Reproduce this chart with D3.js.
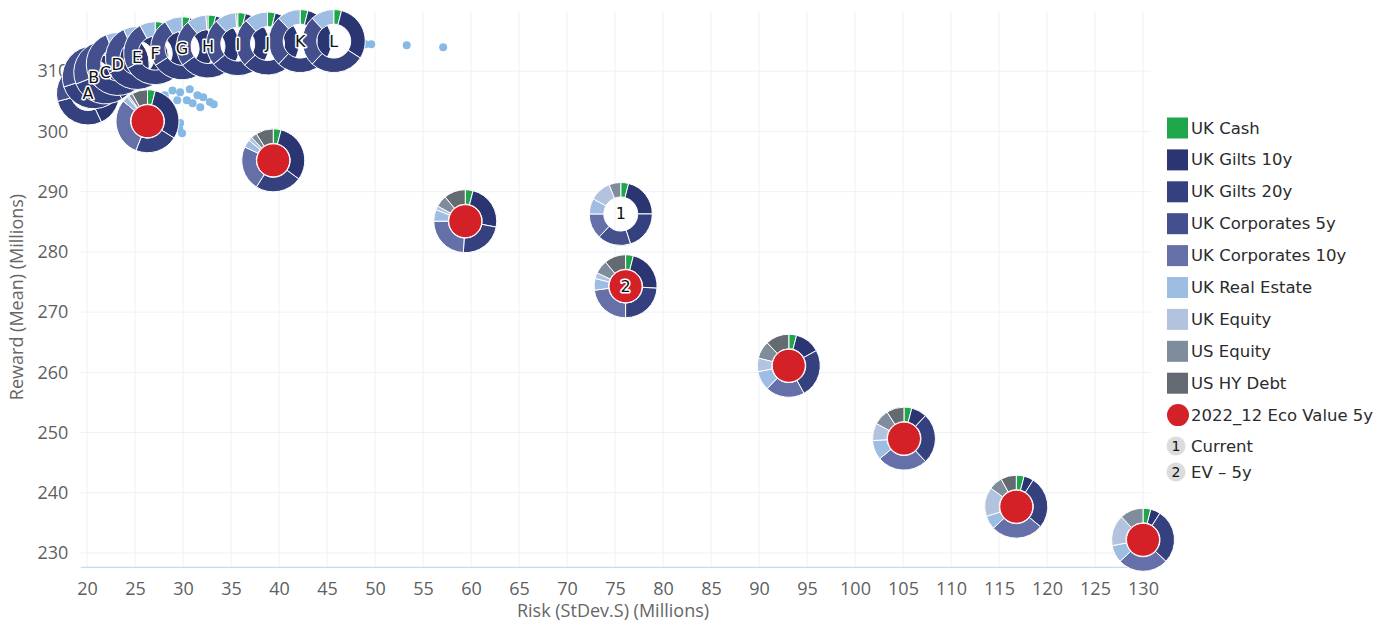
<!DOCTYPE html>
<html>
<head>
<meta charset="utf-8">
<script src="https://cdn.jsdelivr.net/npm/d3@7"></script>
<style>
  body { margin: 0; background: #fff; }
  svg { display: block; }
</style>
</head>
<body>
<svg id="chart" width="1395" height="626"></svg>
<script>
// ---- asset classes (slice order, legend order) ----
const assetClasses = ["UK Cash", "UK Gilts 10y", "UK Gilts 20y", "UK Corporates 5y",
  "UK Corporates 10y", "UK Real Estate", "UK Equity", "US Equity", "US HY Debt"];
const assetColors = ["#1fa64a", "#2a3572", "#35417f", "#444f8e",
  "#6570a8", "#9dbde3", "#b3c2de", "#7e8c9b", "#646a72"];

// ---- efficient frontier portfolios ----
const frontierLabels = ["A", "B", "C", "D", "E", "F", "G", "H", "I", "J", "K", "L"];
const frontierRisk   = [20.1, 20.7, 21.9, 23.2, 25.2, 27.1, 29.9, 32.6, 35.7, 38.8, 42.2, 45.7];
const frontierReward = [306.3, 309.0, 309.8, 311.2, 312.2, 313.0, 313.8, 314.1, 314.5, 314.6, 315.0, 315.0];
const frontierWeights = [
  [3, 40, 28, 26, 0, 3, 0, 0, 0],
  [3, 39, 28, 26, 0, 4, 0, 0, 0],
  [3, 38, 28, 26, 0, 5, 0, 0, 0],
  [3, 37, 28, 26, 0, 6, 0, 0, 0],
  [3, 36, 28, 26, 0, 7, 0, 0, 0],
  [4, 35, 28, 25, 0, 8, 0, 0, 0],
  [4, 34, 28, 25, 0, 9, 0, 0, 0],
  [4, 33, 28, 24, 0, 10, 0, 1, 0],
  [4, 32, 28, 24, 0, 11, 0, 1, 0],
  [4, 31, 28, 25, 0, 12, 0, 0, 0],
  [4, 31, 27, 26, 0, 12, 0, 0, 0],
  [4, 30, 28, 26, 0, 12, 0, 0, 0]
];

// ---- 2022_12 Eco Value 5y portfolios ----
const ecoRisk   = [26.3, 39.4, 59.4, 76.1, 93.1, 105.1, 116.8, 130.0];
const ecoReward = [301.7, 295.2, 285.1, 274.3, 261.1, 249.0, 237.7, 232.2];
const ecoLabels = ["", "", "", "2", "", "", "", ""];
const ecoWeights = [
  [4, 30, 22, 0, 30, 3, 1, 2, 8],
  [4, 31, 24, 0, 23, 4, 2, 3, 9],
  [4, 24, 23, 0, 24, 6, 2, 6, 11],
  [4, 22, 24, 0, 23, 6, 3, 7, 11],
  [4, 13, 25, 0, 20, 10, 7, 9, 12],
  [4, 8, 26, 0, 26, 10, 9, 8, 9],
  [4, 5, 27, 0, 27, 7, 15, 7, 8],
  [4, 5, 28, 0, 26, 9, 16, 12, 0]
];

// ---- current portfolio ----
const currentRisk = [75.6];
const currentReward = [286.3];
const currentLabels = ["1"];
const currentWeights = [[4, 21, 20, 17, 13, 8, 11, 6, 0]];

// ---- simulated portfolios ----
const simRisk   = [28.1, 28.9, 29.7, 30.7, 31.5, 32.1, 32.8, 33.2, 31.8, 29.4, 30.4, 31.0,
                   29.7, 29.9, 29.6, 49.0, 49.6, 53.3, 57.1];
const simReward = [306.0, 306.8, 306.5, 307.0, 306.0, 305.7, 304.9, 304.5, 304.0, 305.2, 305.2, 304.7,
                   301.4, 299.7, 300.5, 314.5, 314.5, 314.3, 314.0];

// ---- axes ----
const xTicks = [20, 25, 30, 35, 40, 45, 50, 55, 60, 65, 70, 75, 80, 85, 90, 95, 100, 105, 110, 115, 120, 125, 130];
const yTicks = [230, 240, 250, 260, 270, 280, 290, 300, 310];
const xTitle = "Risk (StDev.S) (Millions)";
const yTitle = "Reward (Mean) (Millions)";

// ---- legend ----
const legendExtra = ["2022_12 Eco Value 5y", "Current", "EV \u2013 5y"];

const svg = d3.select("#chart");
const tickFont = "'Open Sans', 'DejaVu Sans', sans-serif";
const textFont = "'DejaVu Sans', sans-serif";

const x = d3.scaleLinear().domain([19.3, 130.8]).range([80.3, 1150.7]);
const y = d3.scaleLinear().domain([227.7, 320]).range([566.9, 11]);

// gridlines
const grid = svg.append("g");
grid.selectAll("line.v").data(xTicks).join("line")
  .attr("x1", d => x(d)).attr("x2", d => x(d))
  .attr("y1", y(320)).attr("y2", y(227.7))
  .attr("stroke", "#edf1f7").attr("stroke-width", 1);
grid.selectAll("line.h").data(yTicks).join("line")
  .attr("x1", x(19.3)).attr("x2", x(130.8))
  .attr("y1", d => y(d)).attr("y2", d => y(d))
  .attr("stroke", "#edf1f7").attr("stroke-width", 1);

// x axis
const xAxis = svg.append("g").attr("transform", `translate(0,${y(227.7)})`)
  .call(d3.axisBottom(x).tickValues(xTicks).tickSize(0).tickPadding(15));
xAxis.select(".domain").attr("stroke", "#c9d9ef").attr("stroke-width", 1.2);
xAxis.selectAll("text").attr("font-family", tickFont).attr("font-size", 18).attr("fill", "#5f5f5f");

// y axis
const yAxis = svg.append("g").attr("transform", `translate(${x(19.3) - 12},0)`)
  .call(d3.axisLeft(y).tickValues(yTicks).tickSize(0).tickPadding(0));
yAxis.select(".domain").remove();
yAxis.selectAll("text").attr("font-family", tickFont).attr("font-size", 18).attr("fill", "#5f5f5f");

// axis titles
svg.append("text").attr("x", 613).attr("y", 617).attr("text-anchor", "middle")
  .attr("font-family", tickFont).attr("font-size", 18).attr("fill", "#666").text(xTitle);
svg.append("text").attr("transform", "translate(23,297) rotate(-90)").attr("text-anchor", "middle")
  .attr("font-family", tickFont).attr("font-size", 18).attr("fill", "#666").text(yTitle);

// simulated portfolios
svg.append("g").selectAll("circle").data(simRisk).join("circle")
  .attr("cx", d => x(d)).attr("cy", (d, i) => y(simReward[i])).attr("r", 4)
  .attr("fill", "#86b9e6");

// donuts
const pie = d3.pie().sort(null).value(d => d.w);
const rInner = 17, rOuter = 31.5;
const arc = d3.arc().innerRadius(rInner).outerRadius(rOuter);

function drawDonut(g, weights) {
  const slices = pie(weights.map((w, i) => ({ w, i }))).filter(s => s.data.w > 0);
  g.selectAll("path").data(slices).join("path")
    .attr("d", arc)
    .attr("fill", s => assetColors[s.data.i])
    .attr("stroke", "#fff").attr("stroke-width", 1);
}

const frontierG = svg.append("g");
frontierRisk.forEach((r, i) => {
  const g = frontierG.append("g").attr("transform", `translate(${x(r)},${y(frontierReward[i])})`);
  drawDonut(g, frontierWeights[i]);
});

const ecoG = svg.append("g");
ecoRisk.forEach((r, i) => {
  const g = ecoG.append("g").attr("transform", `translate(${x(r)},${y(ecoReward[i])})`);
  drawDonut(g, ecoWeights[i]);
  g.append("circle").attr("r", 16.5).attr("fill", "#d42027").attr("stroke", "#fff").attr("stroke-width", 1);
});

const curG = svg.append("g");
currentRisk.forEach((r, i) => {
  const g = curG.append("g").attr("transform", `translate(${x(r)},${y(currentReward[i])})`);
  drawDonut(g, currentWeights[i]);
});

// point labels
const labelG = svg.append("g").attr("font-family", textFont).attr("font-size", 16)
  .attr("text-anchor", "middle").attr("dominant-baseline", "central");
function addLabel(px, py, t) {
  if (!t) return;
  labelG.append("text").attr("x", px).attr("y", py).text(t)
    .attr("fill", "#111").attr("stroke", "#fff").attr("stroke-width", 3)
    .attr("stroke-linejoin", "round").attr("paint-order", "stroke");
}
frontierLabels.forEach((t, i) => addLabel(x(frontierRisk[i]), y(frontierReward[i]), t));
ecoLabels.forEach((t, i) => addLabel(x(ecoRisk[i]), y(ecoReward[i]), t));
currentLabels.forEach((t, i) => addLabel(x(currentRisk[i]), y(currentReward[i]), t));

// legend
const legend = svg.append("g").attr("transform", "translate(1167,0)")
  .attr("font-family", textFont).attr("font-size", 16.5).attr("fill", "#2b2b2b");
const rowY = i => 128 + i * 31.9;
assetClasses.forEach((name, i) => {
  legend.append("rect").attr("x", 0).attr("y", rowY(i) - 10.5).attr("width", 21).attr("height", 21)
    .attr("fill", assetColors[i]);
  legend.append("text").attr("x", 24).attr("y", rowY(i)).attr("dominant-baseline", "central").text(name);
});
const ecoRow = rowY(9);
legend.append("circle").attr("cx", 11).attr("cy", ecoRow).attr("r", 11).attr("fill", "#d42027");
legend.append("text").attr("x", 24).attr("y", ecoRow).attr("dominant-baseline", "central").text(legendExtra[0]);
[1, 2].forEach((n, k) => {
  const ry = 446 + k * 26;
  legend.append("circle").attr("cx", 9).attr("cy", ry).attr("r", 9.5).attr("fill", "#dcdcdc");
  legend.append("text").attr("x", 9).attr("y", ry).attr("text-anchor", "middle")
    .attr("dominant-baseline", "central").attr("font-size", 14).attr("fill", "#111").text(n);
  legend.append("text").attr("x", 24).attr("y", ry).attr("dominant-baseline", "central").text(legendExtra[k + 1]);
});
</script>
</body>
</html>
